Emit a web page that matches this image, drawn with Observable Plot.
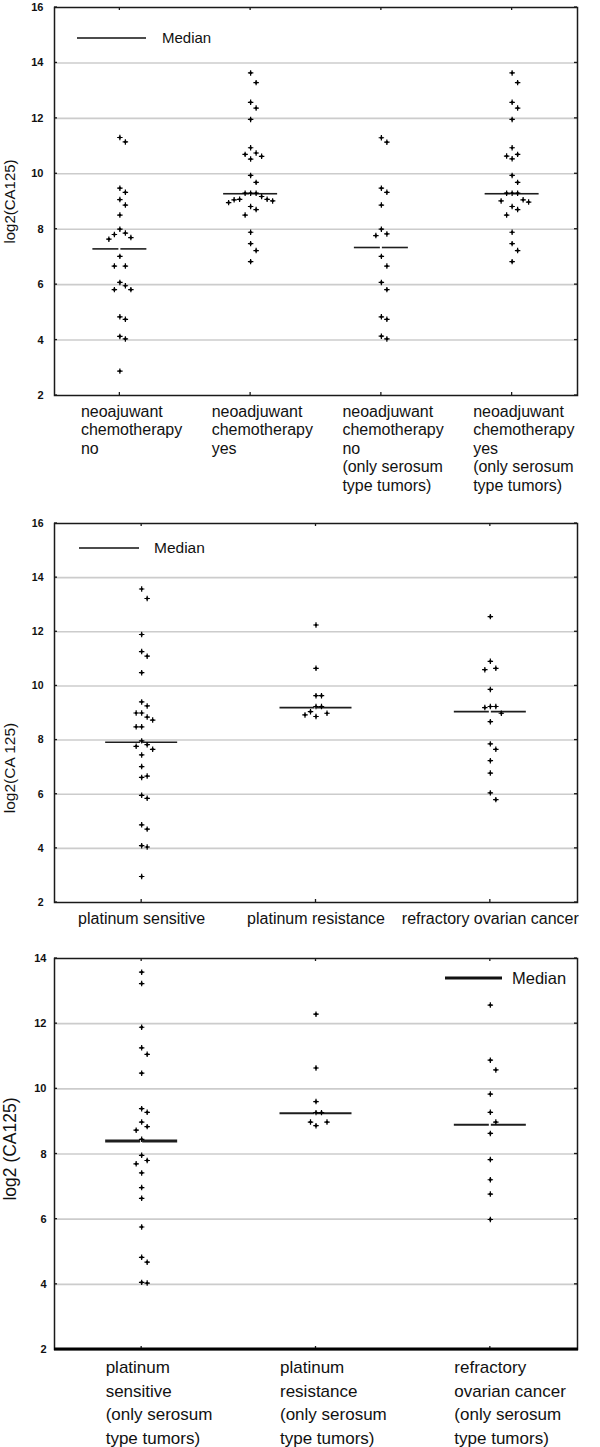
<!DOCTYPE html>
<html><head><meta charset="utf-8">
<script src="https://cdn.jsdelivr.net/npm/d3@7"></script>
<script src="https://cdn.jsdelivr.net/npm/@observablehq/plot@0.6"></script>
<style>
body{margin:0;background:#fff;width:600px;}
svg{display:block;}
</style></head><body><div id="c"></div>
<script>
// ---------- Panel 1 data ----------
const p1Labels = ["neoajuwant\nchemotherapy\nno", "neoadjuwant\nchemotherapy\nyes",
  "neoadjuwant\nchemotherapy\nno\n(only serosum\ntype tumors)", "neoadjuwant\nchemotherapy\nyes\n(only serosum\ntype tumors)"];
const p1NeoNo = [11.31, 11.15, 9.48, 9.33, 9.07, 8.87, 8.51, 8.00, 7.86, 7.81, 7.70, 7.64, 7.02, 6.67, 6.67, 6.08, 5.96, 5.82, 5.82, 4.84, 4.75, 4.13, 4.04, 2.88];
const p1NeoYes = [13.64, 13.29, 12.58, 12.37, 11.96, 10.94, 10.75, 10.70, 10.63, 10.53, 9.94, 9.69, 9.30, 9.30, 9.30, 9.18, 9.08, 9.08, 9.06, 9.02, 8.96, 8.82, 8.71, 8.51, 7.89, 7.48, 7.23, 6.83];
const p1SerNo = [11.30, 11.14, 9.48, 9.33, 8.87, 8.00, 7.83, 7.77, 7.02, 6.67, 6.08, 5.82, 4.84, 4.75, 4.14, 4.04];
const p1SerYes = [13.64, 13.29, 12.58, 12.37, 11.96, 10.94, 10.70, 10.64, 10.54, 9.94, 9.69, 9.30, 9.30, 9.30, 9.06, 9.02, 8.98, 8.82, 8.71, 8.51, 7.89, 7.48, 7.23, 6.83];
const p1Medians = [7.29, 9.28, 7.34, 9.28];
const p1Ticks = [2, 4, 6, 8, 10, 12, 14, 16];

// ---------- Panel 2 data ----------
const p2Labels = ["platinum sensitive", "platinum resistance", "refractory ovarian cancer"];
const p2Sens = [13.58, 13.23, 11.90, 11.27, 11.10, 10.49, 9.41, 9.26, 9.00, 9.00, 8.85, 8.74, 8.49, 8.49, 7.97, 7.83, 7.77, 7.66, 7.45, 7.02, 6.67, 6.62, 5.96, 5.85, 4.87, 4.71, 4.10, 4.05, 2.96];
const p2Res = [12.25, 10.65, 9.64, 9.64, 9.24, 9.24, 9.05, 8.99, 8.93, 8.87];
const p2Ref = [12.56, 10.91, 10.65, 10.60, 9.87, 9.24, 9.24, 9.20, 8.99, 8.68, 7.86, 7.66, 7.24, 6.78, 6.05, 5.80];
const p2Medians = [7.92, 9.20, 9.05];
const p2Ticks = [2, 4, 6, 8, 10, 12, 14, 16];

// ---------- Panel 3 data ----------
const p3Labels = ["platinum\nsensitive\n(only serosum\ntype tumors)", "platinum\nresistance\n(only serosum\ntype tumors)", "refractory\novarian cancer\n(only serosum\ntype tumors)"];
const p3Sens = [13.58, 13.23, 11.89, 11.26, 11.06, 10.48, 9.39, 9.28, 8.98, 8.84, 8.73, 8.45, 7.96, 7.80, 7.70, 7.42, 6.97, 6.64, 5.76, 4.83, 4.68, 4.06, 4.04];
const p3Res = [12.29, 10.64, 9.61, 9.27, 9.27, 8.98, 8.98, 8.87];
const p3Ref = [12.57, 10.88, 10.58, 9.84, 9.28, 8.98, 8.63, 7.83, 7.21, 6.77, 5.99];
const p3Medians = [8.40, 9.25, 8.90];
const p3Ticks = [2, 4, 6, 8, 10, 12, 14];

const FONT = "'Liberation Sans', Arial, Helvetica, sans-serif";
const W = 600, ML = 54, MR = 23;

function makePanel(cfg) {
  const n = cfg.labels.length;
  const stepPx = (W - ML - MR) / n;
  const yMin = d3.min(cfg.ticks), yMax = d3.max(cfg.ticks);
  const H = cfg.height;
  const yPx = d3.scaleLinear([yMin, yMax], [H - cfg.mb, cfg.mt]);
  // beeswarm-style horizontal dodge (pixel offsets computed from collisions)
  const pts = [];
  cfg.series.forEach((vals, i) => {
    const placed = [];
    vals.forEach(v => {
      const py = yPx(v);
      const cands = [0];
      for (let k = 1; k < 12; k++) cands.push(k * 5.5, -k * 5.5);
      let off = 0;
      for (const o of cands) {
        if (placed.every(p => Math.abs(p[0] - o) >= 5 || Math.abs(p[1] - py) >= 10)) { off = o; break; }
      }
      placed.push([off, py]);
      pts.push({i, v, x: i + 0.5 + off / stepPx});
    });
  });
  const cats = cfg.labels.map((label, i) => ({i, label}));
  const meds = cfg.medians.map((m, i) => ({i, m}));
  const hw = cfg.medHalf / stepPx, gap = 1 / stepPx;
  const mw = d => (cfg.firstMedWidth && d.i === 0) ? cfg.firstMedWidth : cfg.medWidth;

  const svg = Plot.plot({
    width: W, height: H,
    marginLeft: ML, marginRight: MR, marginTop: cfg.mt, marginBottom: cfg.mb,
    style: {fontFamily: FONT, fontSize: cfg.tickFont + "px", fontWeight: "bold", background: "#fff", color: "#111"},
    x: {domain: [0, n], axis: null},
    y: {domain: [yMin, yMax], ticks: cfg.ticks, tickSize: 0, tickPadding: cfg.tickPad, label: null, tickFormat: d => String(d)},
    marks: [
      Plot.ruleY(cfg.ticks.filter(t => t > yMin && t < yMax), {stroke: "#cccccc", strokeWidth: 1.6}),
      Plot.ruleY(meds, {y: "m", x1: d => d.i + 0.5 - hw, x2: d => d.i + 0.5 - gap, stroke: "#1e1e1e", strokeWidth: mw}),
      Plot.ruleY(meds, {y: "m", x1: d => d.i + 0.5 + gap, x2: d => d.i + 0.5 + hw, stroke: "#1e1e1e", strokeWidth: mw}),
      Plot.dot(pts, {x: "x", y: "v", symbol: "plus", r: 1.9, stroke: "#000", strokeWidth: 1.2}),
      Plot.dot(pts, {x: "x", y: "v", r: cfg.dotR, fill: "#000", stroke: null}),
      Plot.text(cats, {x: d => d.i + 0.5, text: "label", frameAnchor: "bottom", textAnchor: cfg.labelAnchor,
        dx: cfg.labelDx, dy: cfg.labelDy, lineAnchor: "top", lineHeight: cfg.lineHeight, fontSize: cfg.labelFont,
        fontWeight: "normal", fill: "#111"}),
      Plot.text([cfg.yLabel], {text: d => d, frameAnchor: "left", textAnchor: "middle", lineAnchor: "middle",
        rotate: -90, dx: -44, dy: cfg.yLabelDy, fontSize: cfg.yLabelFont, fontWeight: "normal", fill: "#111"}),
      Plot.frame({stroke: "#1a1a1a", strokeWidth: 1.5})
    ]
  });

  // edge ticks (inward) and legend
  const s = d3.select(svg);
  const g = s.append("g").attr("stroke", "#1a1a1a").attr("stroke-width", 1.3);
  const x0 = ML, x1 = W - MR, y0 = cfg.mt, y1 = H - cfg.mb;
  for (let i = 0; i < n; i++) {
    const cx = x0 + (i + 0.5) * stepPx;
    g.append("line").attr("x1", cx).attr("x2", cx).attr("y1", y0).attr("y2", y0 + 3);
    g.append("line").attr("x1", cx).attr("x2", cx).attr("y1", y1 - 3).attr("y2", y1);
  }
  for (const t of cfg.ticks) {
    const ty = yPx(t);
    g.append("line").attr("x1", x1 - 3).attr("x2", x1).attr("y1", ty).attr("y2", ty);
    g.append("line").attr("x1", x0).attr("x2", x0 + 3).attr("y1", ty).attr("y2", ty);
  }
  if (cfg.bottomThick) {
    s.append("line").attr("x1", x0).attr("x2", x1 + 1).attr("y1", y1).attr("y2", y1)
      .attr("stroke", "#000").attr("stroke-width", cfg.bottomThick);
  }
  const L = cfg.legend;
  s.append("line").attr("x1", L.x1).attr("x2", L.x2).attr("y1", L.y).attr("y2", L.y)
    .attr("stroke", "#111").attr("stroke-width", L.w);
  s.append("text").attr("x", L.tx).attr("y", L.y).attr("dy", "0.35em").attr("text-anchor", "start")
    .attr("font-size", L.fs).attr("font-weight", "normal").attr("font-family", FONT).attr("fill", "#111")
    .text("Median");
  return svg;
}

const root = document.getElementById("c");
root.appendChild(makePanel({
  labels: p1Labels, series: [p1NeoNo, p1NeoYes, p1SerNo, p1SerYes], medians: p1Medians, ticks: p1Ticks,
  height: 510, mt: 7, mb: 115, tickFont: 11, tickPad: 11,
  medHalf: 27, medWidth: 1.6, dotR: 1.35,
  labelAnchor: "start", labelDx: -39, labelDy: 8, lineHeight: 1.16, labelFont: 16,
  yLabel: "log2(CA125)", yLabelDy: 0, yLabelFont: 15,
  legend: {x1: 77, x2: 146, y: 38, w: 1.6, tx: 162, fs: 15}
}));
root.appendChild(makePanel({
  labels: p2Labels, series: [p2Sens, p2Res, p2Ref], medians: p2Medians, ticks: p2Ticks,
  height: 440, mt: 13, mb: 48, tickFont: 10.5, tickPad: 11,
  medHalf: 36, medWidth: 1.6, dotR: 1.3,
  labelAnchor: "middle", labelDx: 0, labelDy: 8, lineHeight: 1.2, labelFont: 16,
  yLabel: "log2(CA 125)", yLabelDy: 55, yLabelFont: 15.5,
  legend: {x1: 79, x2: 139, y: 38, w: 1.6, tx: 154, fs: 15.5}
}));
root.appendChild(makePanel({
  labels: p3Labels, series: [p3Sens, p3Res, p3Ref], medians: p3Medians, ticks: p3Ticks,
  height: 497, mt: 8, mb: 98, tickFont: 11, tickPad: 8,
  medHalf: 36, medWidth: 2, firstMedWidth: 3, dotR: 1.4, bottomThick: 3,
  labelAnchor: "start", labelDx: -36, labelDy: 7, lineHeight: 1.38, labelFont: 17,
  yLabel: "log2 (CA125)", yLabelDy: -5, yLabelFont: 17.5,
  legend: {x1: 445, x2: 502, y: 28, w: 3, tx: 512, fs: 16.5}
}));
</script></body></html>
